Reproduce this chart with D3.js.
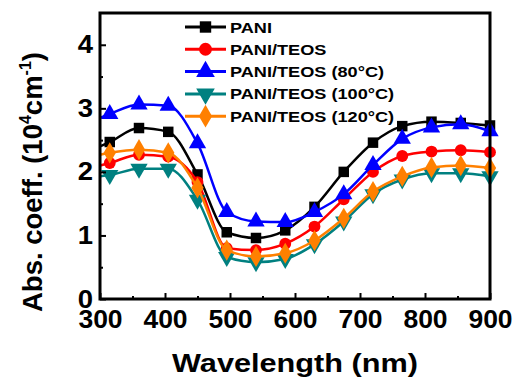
<!DOCTYPE html>
<html>
<head>
<meta charset="utf-8">
<script src="https://cdn.jsdelivr.net/npm/d3@7"></script>
<style>
body { margin: 0; background: #fff; }
text { font-family: Arial, "Liberation Sans", sans-serif; font-weight: bold; }
</style>
</head>
<body>
<script>
// wavelength (nm) where the curves are sampled; first point is the left frame edge, the rest carry markers
var wavelengths = [300, 315, 360, 405, 450, 495, 540, 585, 630, 675, 720, 765, 810, 855, 900];
var pani    = [2.40, 2.47, 2.69, 2.63, 1.96, 1.05, 0.96, 1.08, 1.45, 2.00, 2.46, 2.72, 2.79, 2.77, 2.73];
var teos    = [2.10, 2.14, 2.27, 2.24, 1.84, 0.80, 0.77, 0.87, 1.14, 1.57, 2.00, 2.25, 2.32, 2.34, 2.31];
var teos80  = [2.85, 2.91, 3.06, 3.04, 2.45, 1.37, 1.22, 1.21, 1.37, 1.65, 2.11, 2.52, 2.70, 2.75, 2.64];
var teos100 = [1.93, 1.95, 2.05, 2.05, 1.56, 0.66, 0.58, 0.63, 0.86, 1.22, 1.65, 1.88, 1.98, 1.98, 1.93];
var teos120 = [2.27, 2.30, 2.35, 2.30, 1.75, 0.77, 0.67, 0.72, 0.92, 1.27, 1.69, 1.93, 2.07, 2.10, 2.06];

var seriesNames = ["PANI", "PANI/TEOS", "PANI/TEOS (80\u00B0C)", "PANI/TEOS (100\u00B0C)", "PANI/TEOS (120\u00B0C)"];
var xTicks = [300, 400, 500, 600, 700, 800, 900];
var yTicks = [0, 1, 2, 3, 4];

var colors = ["#000000", "#ff0000", "#0000ff", "#008080", "#ff8000"];
var symbols = [d3.symbolSquare, d3.symbolCircle, d3.symbolTriangle, d3.symbolTriangle, d3.symbolDiamond];
var symSize = [110, 110, 130, 130, 130];
var symRot = [0, 0, 0, 180, 0];

var margin = {top: 13, right: 25, bottom: 82, left: 100},
	width = 515 - margin.left - margin.right,
	height = 381 - margin.top - margin.bottom;

// stretch text horizontally a bit, the original export uses wide glyphs
function stretch(sel, k) {
	sel.each(function() {
		var len = this.getComputedTextLength();
		d3.select(this).attr("textLength", len * k).attr("lengthAdjust", "spacingAndGlyphs");
	});
}

var svg = d3.select("body").append("svg")
	.attr("width", 515)
	.attr("height", 381);

var g = svg.append("g")
	.attr("transform", "translate(" + margin.left + "," + margin.top + ")");

var x = d3.scaleLinear().domain([300, 900]).range([0, width]);
var y = d3.scaleLinear().domain([0, 4.5]).range([height, 0]);

var allSeries = [pani, teos, teos80, teos100, teos120].map(function(vals, i) {
	return {
		name: seriesNames[i],
		color: colors[i],
		values: vals.map(function(v, j) { return {w: wavelengths[j], v: v}; })
	};
});

var line = d3.line()
	.x(function(d) { return x(d.w); })
	.y(function(d) { return y(d.v); })
	.curve(d3.curveMonotoneX);

allSeries.forEach(function(s, i) {
	g.append("path")
		.datum(s.values)
		.attr("fill", "none")
		.attr("stroke", s.color)
		.attr("stroke-width", 2.5)
		.attr("d", line);
	g.selectAll(".m" + i)
		.data(s.values.slice(1))
		.enter().append("path")
		.attr("class", "m" + i)
		.attr("fill", s.color)
		.attr("transform", function(d) { return "translate(" + x(d.w) + "," + y(d.v) + ") rotate(" + symRot[i] + ")"; })
		.attr("d", d3.symbol().type(symbols[i]).size(symSize[i]));
});

// axes with inward ticks
var xMinor = g.append("g")
	.attr("transform", "translate(0," + height + ")")
	.call(d3.axisBottom(x).tickValues(d3.range(350, 900, 100)).tickSize(-3).tickFormat(""));
var xAxis = g.append("g")
	.attr("transform", "translate(0," + height + ")")
	.call(d3.axisBottom(x).tickValues(xTicks).tickSize(-6).tickPadding(11).tickFormat(d3.format("d")));
var yMinor = g.append("g")
	.call(d3.axisLeft(y).tickValues([0.5, 1.5, 2.5, 3.5]).tickSize(-3).tickFormat(""));
var yAxis = g.append("g")
	.call(d3.axisLeft(y).tickValues(yTicks).tickSize(-6).tickPadding(7).tickFormat(d3.format("d")));

[xMinor, xAxis, yMinor, yAxis].forEach(function(a) {
	a.select(".domain").remove();
	a.selectAll("line").attr("stroke", "#000").attr("stroke-width", 2);
	a.selectAll("text").attr("font-size", 25).attr("fill", "#000");
});
stretch(xAxis.selectAll("text"), 1.06);
stretch(yAxis.selectAll("text"), 1.1);

// frame
g.append("rect")
	.attr("width", width)
	.attr("height", height)
	.attr("fill", "none")
	.attr("stroke", "#000")
	.attr("stroke-width", 3);

// legend
var legend = g.append("g").attr("transform", "translate(85,14)");
allSeries.forEach(function(s, i) {
	var row = legend.append("g").attr("transform", "translate(0," + (i * 22.3) + ")");
	row.append("line")
		.attr("x1", 0).attr("x2", 41)
		.attr("stroke", s.color)
		.attr("stroke-width", 3);
	row.append("path")
		.attr("fill", s.color)
		.attr("transform", "translate(20.5,0) rotate(" + symRot[i] + ")")
		.attr("d", d3.symbol().type(symbols[i]).size(symSize[i] + 20));
	row.append("text")
		.attr("x", 45)
		.attr("dy", "0.36em")
		.attr("font-size", 15.5)
		.text(s.name)
		.call(stretch, 1.17);
});

// axis titles
svg.append("text")
	.attr("x", margin.left + width / 2)
	.attr("y", 372)
	.attr("text-anchor", "middle")
	.attr("font-size", 26.5)
	.text("Wavelength (nm)")
	.attr("textLength", 246)
	.attr("lengthAdjust", "spacingAndGlyphs");

var yt = svg.append("text")
	.attr("transform", "translate(42,182) rotate(-90)")
	.attr("text-anchor", "middle")
	.attr("font-size", 27.5);
yt.append("tspan").text("Abs. coeff. (10");
yt.append("tspan").attr("dy", -11).attr("font-size", 16).text("4");
yt.append("tspan").attr("dy", 11).text("cm");
yt.append("tspan").attr("dy", -11).attr("font-size", 16).text("-1");
yt.append("tspan").attr("dy", 11).text(")");
</script>
</body>
</html>
